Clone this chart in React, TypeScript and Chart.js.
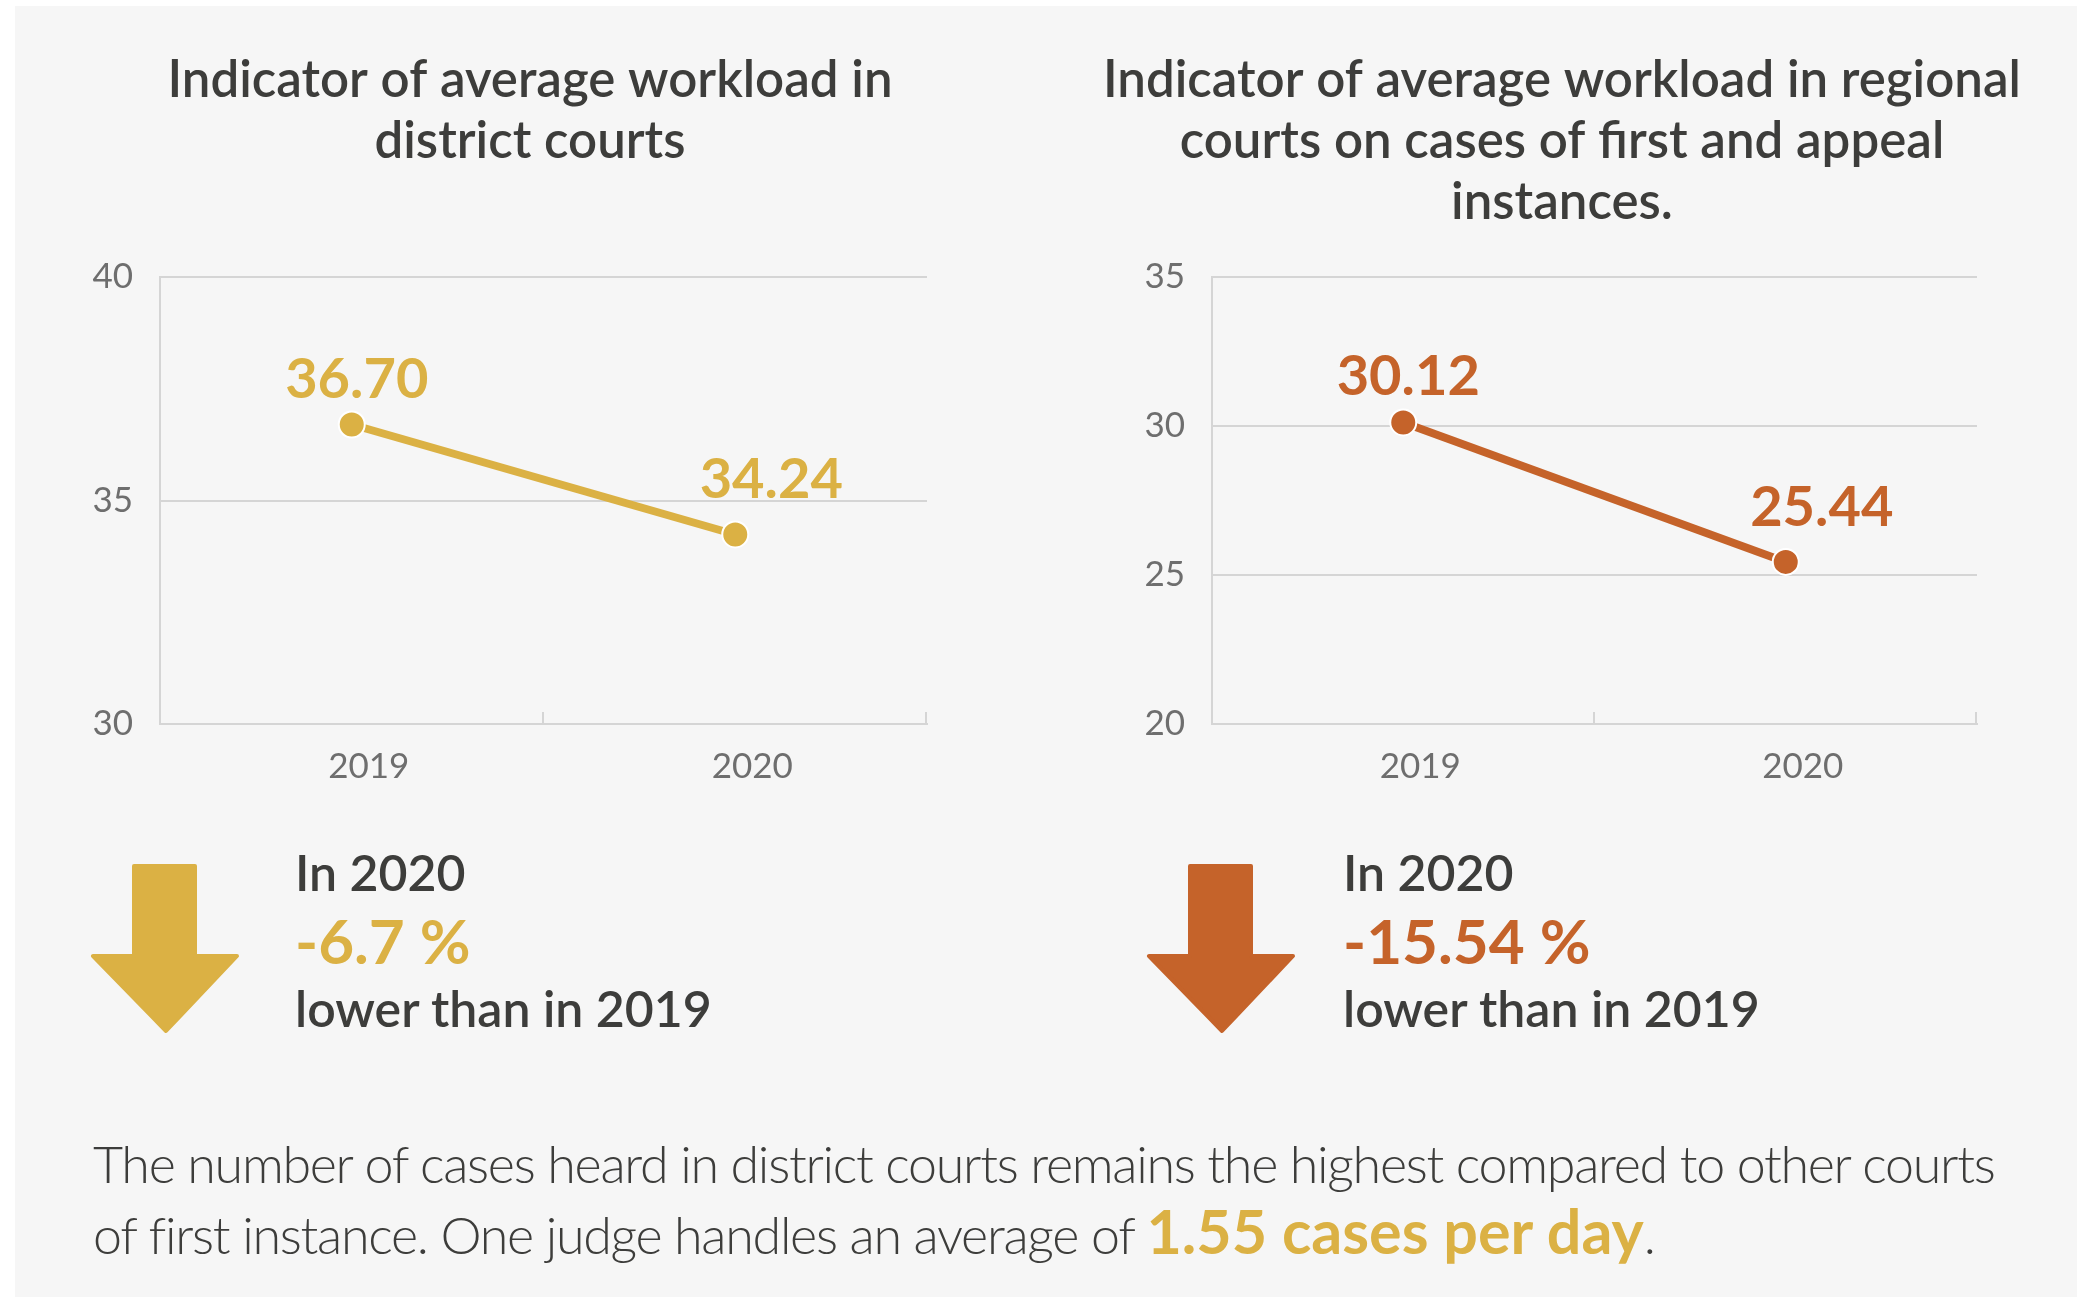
import React, { useEffect, useRef } from 'react';
import { Chart, registerables } from 'chart.js';

Chart.register(...registerables);

// ---------- data ----------
const years = ['2019', '2020'];
const districtValues = [36.7, 34.24];
const regionalValues = [30.12, 25.44];
const districtTicks = [30, 35, 40];
const regionalTicks = [20, 25, 30, 35];
const districtTitle = ['Indicator of average workload in', 'district courts'];
const regionalTitle = [
  'Indicator of average workload in regional',
  'courts on cases of first and appeal',
  'instances.',
];
const districtChange = '-6.7 %';
const regionalChange = '-15.54 %';
const casesPerDay = '1.55 cases per day';

// ---------- style ----------
const FONT = "Lato, 'Noto Sans', sans-serif";
const GOLD = '#dbb144';
const ORANGE = '#c5632a';
const DARK = '#3d3d3b';
const TICK = '#6e6e6e';
const GRID = '#d5d5d5';

const valueLabelPlugin = {
  id: 'valueLabels',
  afterDatasetsDraw(chart: any, _args: any, opts: any) {
    const ctx = chart.ctx;
    chart.data.datasets.forEach((ds: any, di: number) => {
      const meta = chart.getDatasetMeta(di);
      meta.data.forEach((pt: any, i: number) => {
        const v = ds.data[i] as number;
        ctx.save();
        ctx.font = `bold ${opts.size}px ${FONT}`;
        ctx.fillStyle = ds.borderColor;
        ctx.textAlign = 'center';
        ctx.textBaseline = 'alphabetic';
        ctx.fillText(v.toFixed(2), pt.x + opts.dx[i], pt.y + opts.dy[i]);
        ctx.restore();
      });
    });
  },
};

const innerTickPlugin = {
  id: 'innerTicks',
  afterDraw(chart: any) {
    const xs = chart.scales.x;
    const n = chart.data.labels.length;
    const ctx = chart.ctx;
    ctx.save();
    ctx.strokeStyle = GRID;
    ctx.lineWidth = 2;
    for (let i = 1; i <= n; i++) {
      const x = Math.round(xs.left + (xs.width * i) / n) - 1;
      ctx.beginPath();
      ctx.moveTo(x, xs.top - 12);
      ctx.lineTo(x, xs.top);
      ctx.stroke();
    }
    ctx.restore();
  },
};

const centerTitlePlugin = {
  id: 'centerTitle',
  afterDraw(chart: any, _args: any, opts: any) {
    const ctx = chart.ctx;
    ctx.save();
    ctx.font = `600 ${opts.size}px ${FONT}`;
    ctx.fillStyle = DARK;
    ctx.textAlign = 'center';
    ctx.textBaseline = 'alphabetic';
    (opts.lines as string[]).forEach((line, i) => {
      ctx.fillText(line, opts.centerX, opts.baseline + i * opts.lineHeight);
    });
    ctx.restore();
  },
};

type LCProps = {
  left: number;
  width: number;
  values: number[];
  ticks: number[];
  color: string;
  title: string[];
  padRight: number;
  axisWidth: number;
  titleCenter: number;
};

function LineChart({
  left,
  width,
  values,
  ticks,
  color,
  title,
  padRight,
  axisWidth,
  titleCenter,
}: LCProps) {
  const ref = useRef<HTMLCanvasElement | null>(null);
  useEffect(() => {
    if (!ref.current) return;
    const chart = new Chart(ref.current, {
      type: 'line',
      data: {
        labels: years,
        datasets: [
          {
            data: values,
            borderColor: color,
            backgroundColor: color,
            borderWidth: 8,
            pointRadius: 13,
            pointHoverRadius: 13,
            pointBackgroundColor: color,
            pointBorderColor: '#ffffff',
            pointBorderWidth: 2,
            tension: 0,
            clip: false as any,
          },
        ],
      },
      options: {
        animation: false,
        responsive: false,
        events: [],
        layout: { padding: { left: 0, right: padRight, top: 277, bottom: 0 } },
        plugins: {
          legend: { display: false },
          tooltip: { enabled: false },
          title: { display: false },
          centerTitle: {
            lines: title,
            centerX: titleCenter,
            baseline: 97,
            lineHeight: 61,
            size: 51,
          },
          valueLabels: { dx: [5, 36], dy: [-27, -36], size: 56 },
        } as any,
        scales: {
          x: {
            offset: true,
            grid: { display: false },
            border: { display: true, color: GRID, width: 2 },
            ticks: {
              color: TICK,
              font: { family: FONT, size: 35 },
              padding: 14,
              labelOffset: 17,
            },
            afterFit: (s: any) => {
              s.height = 76;
            },
          },
          y: {
            min: ticks[0],
            max: ticks[ticks.length - 1],
            afterBuildTicks: (s: any) => {
              s.ticks = ticks.map((v) => ({ value: v }));
            },
            ticks: {
              color: TICK,
              font: { family: FONT, size: 35 },
              padding: 27,
            },
            grid: { color: GRID, lineWidth: 2, drawTicks: false },
            border: { display: true, color: GRID, width: 2 },
            afterFit: (s: any) => {
              s.width = axisWidth;
            },
          },
        },
      } as any,
      plugins: [valueLabelPlugin, innerTickPlugin, centerTitlePlugin],
    });
    return () => chart.destroy();
  }, []);
  return (
    <canvas
      ref={ref}
      width={width}
      height={800}
      style={{ position: 'absolute', left, top: 0, width, height: 800 }}
    />
  );
}

function Arrow({ left, color }: { left: number; color: string }) {
  const pts = '47,6 108,6 108,96 150,96 79,171 6,96 47,96';
  return (
    <svg
      width={160}
      height={180}
      style={{ position: 'absolute', left, top: 860 }}
      viewBox="0 0 160 180"
    >
      <polygon points={pts} fill={color} stroke={color} strokeWidth={4} strokeLinejoin="round" />
    </svg>
  );
}

function Line({ x, baseline, size, weight, color, children }: any) {
  return (
    <div
      style={{
        position: 'absolute',
        left: x,
        top: baseline - 0.887 * size,
        fontFamily: FONT,
        fontSize: size,
        lineHeight: `${size}px`,
        fontWeight: weight,
        color,
        whiteSpace: 'nowrap',
      }}
    >
      {children}
    </div>
  );
}

function ChangeBlock({ x, change, color }: { x: number; change: string; color: string }) {
  return (
    <>
      <Line x={x} baseline={891} size={50} weight={600} color={DARK}>
        In 2020
      </Line>
      <Line x={x} baseline={964} size={62} weight={700} color={color}>
        {change}
      </Line>
      <Line x={x} baseline={1027} size={50} weight={600} color={DARK}>
        lower than in 2019
      </Line>
    </>
  );
}

export default function App() {
  return (
    <div
      style={{
        position: 'absolute',
        left: 0,
        top: 0,
        width: 2090,
        height: 1297,
        background: '#ffffff',
        overflow: 'hidden',
      }}
    >
      <div
        style={{
          position: 'absolute',
          left: 15,
          top: 6,
          width: 2062,
          height: 1291,
          background: '#f6f6f6',
        }}
      />
      <LineChart
        left={60}
        width={940}
        values={districtValues}
        ticks={districtTicks}
        color={GOLD}
        title={districtTitle}
        padRight={73}
        axisWidth={100}
        titleCenter={470}
      />
      <LineChart
        left={1082}
        width={960}
        values={regionalValues}
        ticks={regionalTicks}
        color={ORANGE}
        title={regionalTitle}
        padRight={65}
        axisWidth={130}
        titleCenter={480}
      />
      <Arrow left={87} color={GOLD} />
      <Arrow left={1143} color={ORANGE} />
      <ChangeBlock x={295} change={districtChange} color={GOLD} />
      <ChangeBlock x={1343} change={regionalChange} color={ORANGE} />
      <div
        style={{
          position: 'absolute',
          left: 93,
          top: 1129,
          fontFamily: FONT,
          fontSize: 52,
          fontWeight: 300,
          lineHeight: '68px',
          letterSpacing: '-1.3px',
          color: DARK,
          whiteSpace: 'nowrap',
        }}
      >
        The number of cases heard in district courts remains the highest compared to other courts
        <br />
        of first instance. One judge handles an average of{' '}
        <span style={{ fontWeight: 700, color: GOLD, fontSize: 61, letterSpacing: '0px' }}>
          {casesPerDay}
        </span>
        .
      </div>
    </div>
  );
}
